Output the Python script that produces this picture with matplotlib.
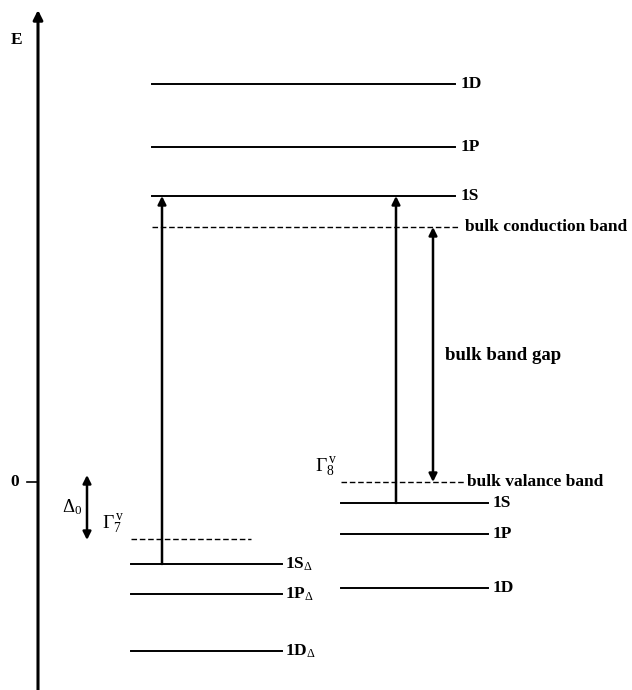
import matplotlib
matplotlib.use('Agg')
import matplotlib.pyplot as plt

plt.rcParams['font.family'] = 'Liberation Serif'
plt.rcParams['mathtext.fontset'] = 'custom'
plt.rcParams['mathtext.rm'] = 'Liberation Serif'
plt.rcParams['mathtext.it'] = 'Liberation Serif'
plt.rcParams['mathtext.bf'] = 'Liberation Serif:bold'

# energy levels (arbitrary units, bulk valence band edge = 0)
cond_labels = ['1D', '1P', '1S']
cond_E = [3.98, 3.35, 2.86]
bulk_cb = 2.55
bulk_vb = 0.0
val_labels = ['1S', '1P', '1D']
val_E = [-0.21, -0.52, -1.06]
gamma7 = -0.57
so_labels = ['1S$_{\\Delta}$', '1P$_{\\Delta}$', '1D$_{\\Delta}$']
so_E = [-0.82, -1.12, -1.69]

fig = plt.figure(figsize=(6.32, 6.90), dpi=100)
ax = fig.add_axes([0, 0, 1, 1])
ax.set_xlim(0, 632)
ax.set_ylim(-2.08, 4.82)
ax.axis('off')

fs = 12.5
lw_lev = 1.4

# energy axis
ax.annotate('', xy=(38, 4.72), xytext=(38, -2.08),
            arrowprops=dict(arrowstyle='-|>', lw=2.2, color='black',
                            mutation_scale=14, shrinkA=0, shrinkB=0))
ax.text(17, 4.42, 'E', fontsize=fs, fontweight='bold', ha='center', va='center')
ax.plot([27, 38], [0, 0], color='black', lw=1.2)
ax.text(15, 0, '0', fontsize=fs, fontweight='bold', ha='center', va='center')

# conduction band levels
for lab, e in zip(cond_labels, cond_E):
    ax.plot([152, 455], [e, e], color='black', lw=lw_lev)
    ax.text(461, e, lab, fontsize=fs, fontweight='bold', va='center')
ax.plot([152, 460], [bulk_cb, bulk_cb], color='black', lw=1.0, ls=(0, (4, 2)))
ax.text(465, bulk_cb, 'bulk conduction band', fontsize=fs, fontweight='bold', va='center')

# valence band levels
ax.plot([341, 466], [bulk_vb, bulk_vb], color='black', lw=1.0, ls=(0, (4, 2)))
ax.text(467, bulk_vb, 'bulk valance band', fontsize=fs, fontweight='bold', va='center')
ax.text(315, 0.15, '$\\Gamma_8^{\\,v}$', fontsize=14, ha='left', va='center')
for lab, e in zip(val_labels, val_E):
    ax.plot([341, 488], [e, e], color='black', lw=lw_lev)
    ax.text(493, e, lab, fontsize=fs, fontweight='bold', va='center')

# split-off band levels
ax.plot([131, 251], [gamma7, gamma7], color='black', lw=1.0, ls=(0, (4, 2)))
for lab, e in zip(so_labels, so_E):
    ax.plot([131, 282], [e, e], color='black', lw=lw_lev)
    ax.text(285, e, lab, fontsize=fs, fontweight='bold', va='center')

# transitions
arrow_kw = dict(arrowstyle='-|>', lw=1.8, color='black', mutation_scale=12,
                shrinkA=0, shrinkB=0)
ax.annotate('', xy=(162, cond_E[2]), xytext=(162, so_E[0]), arrowprops=arrow_kw)
ax.annotate('', xy=(396, cond_E[2]), xytext=(396, val_E[0]), arrowprops=arrow_kw)

# bulk band gap
gap_kw = dict(arrowstyle='<|-|>', lw=1.8, color='black', mutation_scale=12,
              shrinkA=0, shrinkB=0)
ax.annotate('', xy=(433, bulk_cb), xytext=(433, bulk_vb), arrowprops=gap_kw)
ax.text(445, 1.27, 'bulk band gap', fontsize=13.5, fontweight='bold', va='center')

# spin-orbit splitting
ax.annotate('', xy=(87, 0.07), xytext=(87, -0.58), arrowprops=gap_kw)
ax.text(72, -0.25, '$\\Delta_0$', fontsize=13.5, ha='center', va='center')
ax.text(102, -0.42, '$\\Gamma_7^{\\,v}$', fontsize=14, ha='left', va='center')

fig.savefig('out.png', dpi=100)
